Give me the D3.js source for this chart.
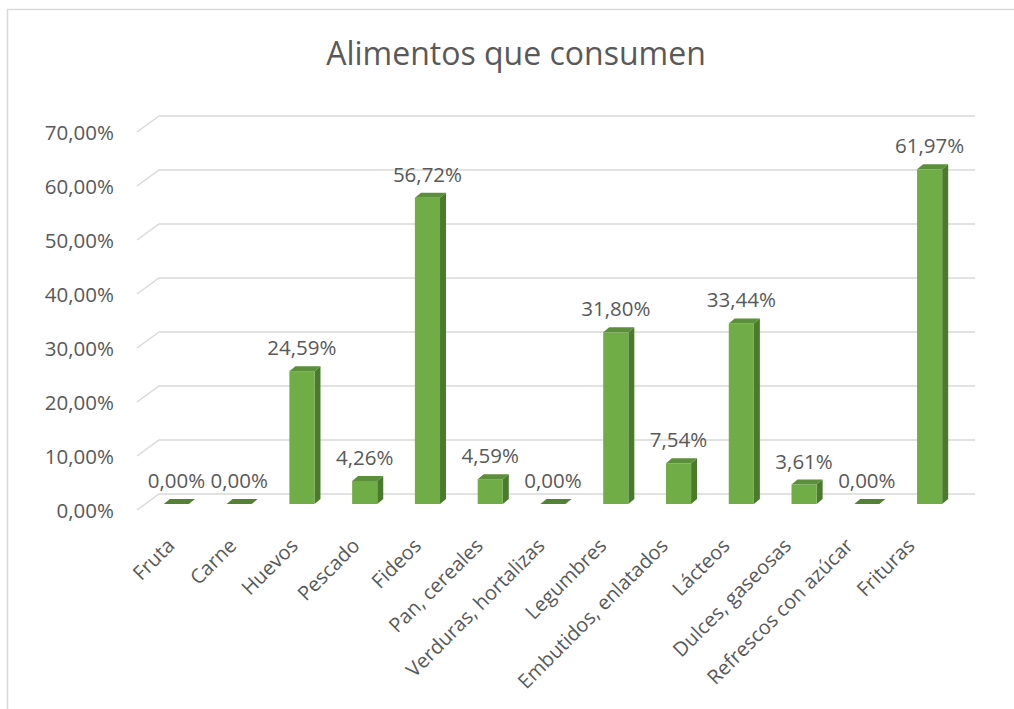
<!DOCTYPE html>
<html>
<head>
<meta charset="utf-8">
<script src="https://cdn.jsdelivr.net/npm/d3@7/dist/d3.min.js"></script>
<style>
  html, body { margin: 0; padding: 0; background: #ffffff; }
  svg { display: block; }
  text { font-family: "Open Sans", "Noto Sans", sans-serif; fill: #595959; }
</style>
</head>
<body>
<svg id="chart" width="1014" height="709"></svg>
<script>
// Categories and their share (percent)
const categories = ["Fruta", "Carne", "Huevos", "Pescado", "Fideos", "Pan, cereales",
  "Verduras, hortalizas", "Legumbres", "Embutidos, enlatados", "Lácteos",
  "Dulces, gaseosas", "Refrescos con azúcar", "Frituras"];
const values = [0.00, 0.00, 24.59, 4.26, 56.72, 4.59, 0.00, 31.80, 7.54, 33.44, 3.61, 0.00, 61.97];
const yTicks = [0, 10, 20, 30, 40, 50, 60, 70];
const title = "Alimentos que consumen";

const fmt = v => v.toFixed(2).replace(".", ",") + "%";

const svg = d3.select("#chart");

// Chart area frame
svg.append("rect")
  .attr("x", 7.5).attr("y", 9.5)
  .attr("width", 1020).attr("height", 720)
  .attr("fill", "#ffffff").attr("stroke", "#d9d9d9").attr("stroke-width", 1.5);

// Title
svg.append("text")
  .attr("x", 516).attr("y", 65)
  .attr("text-anchor", "middle")
  .attr("font-size", 32)
  .text(title);

// Pseudo-3D geometry: back wall, and the depth offset towards the viewer
const back = { x0: 159, x1: 975 };
const depth = { dx: -22, dy: 16 };           // back wall -> front edge of floor
const barShift = { dx: -14, dy: 10 };        // back wall -> front face of the bars
const barDepth = { dx: 6, dy: -5 };          // thickness of each column

const y = d3.scaleLinear().domain([0, 70]).range([494, 116]);

// Gridlines: side wall diagonal + horizontal on the back wall
const grid = svg.append("g").attr("stroke", "#d9d9d9").attr("stroke-width", 1.5).attr("fill", "none");
yTicks.forEach(t => {
  const yb = y(t);
  grid.append("path")
    .attr("d", `M${back.x0 + depth.dx},${yb + depth.dy}L${back.x0},${yb}L${back.x1},${yb}`);
});

// Value axis labels, centred on the front end of each gridline
svg.append("g").selectAll("text")
  .data(yTicks).join("text")
  .attr("x", 114)
  .attr("y", d => y(d) + depth.dy + 1)
  .attr("dy", "0.35em")
  .attr("text-anchor", "end")
  .attr("font-size", 20.5)
  .text(d => fmt(d));

// Category band along the bars' front plane
const x = d3.scaleBand()
  .domain(categories)
  .range([back.x0 + barShift.dx, back.x1 + barShift.dx])
  .paddingInner(0.6).paddingOuter(0.3);

const bw = x.bandwidth();
const colors = { front: "#70ad47", side: "#4a7a2c", top: "#5b8f3b", flat: "#548235" };

const bars = svg.append("g").selectAll("g")
  .data(categories.map((c, i) => ({ c, v: values[i] })))
  .join("g");

bars.each(function (d) {
  const g = d3.select(this);
  const x0 = x(d.c);
  const yb = y(0) + barShift.dy;
  const yt = y(d.v) + barShift.dy;
  const p = pts => pts.map(q => q.join(",")).join(" ");
  if (d.v > 0) {
    g.append("polygon").attr("fill", colors.side)
      .attr("points", p([[x0 + bw, yt], [x0 + bw + barDepth.dx, yt + barDepth.dy],
        [x0 + bw + barDepth.dx, yb + barDepth.dy], [x0 + bw, yb]]));
    g.append("rect").attr("fill", colors.front)
      .attr("x", x0).attr("y", yt).attr("width", bw).attr("height", yb - yt);
  }
  g.append("polygon").attr("fill", d.v > 0 ? colors.top : colors.flat)
    .attr("points", p([[x0, yt], [x0 + bw, yt], [x0 + bw + barDepth.dx, yt + barDepth.dy],
      [x0 + barDepth.dx, yt + barDepth.dy]]));
});

// Data labels above each column
svg.append("g").selectAll("text")
  .data(categories.map((c, i) => ({ c, v: values[i] })))
  .join("text")
  .attr("x", d => x(d.c) + bw / 2)
  .attr("y", d => y(d.v) + barShift.dy + barDepth.dy - 11)
  .attr("text-anchor", "middle")
  .attr("font-size", 20.5)
  .text(d => fmt(d.v));

// Category labels, rotated 45 degrees
const xl = d3.scalePoint().domain(categories).range([174, 914]);
svg.append("g").selectAll("text")
  .data(categories).join("text")
  .attr("transform", d => `translate(${xl(d) - 3},${542}) rotate(-45)`)
  .attr("text-anchor", "end")
  .attr("dy", "0.35em")
  .attr("font-size", 20)
  .text(d => d);
</script>
</body>
</html>
